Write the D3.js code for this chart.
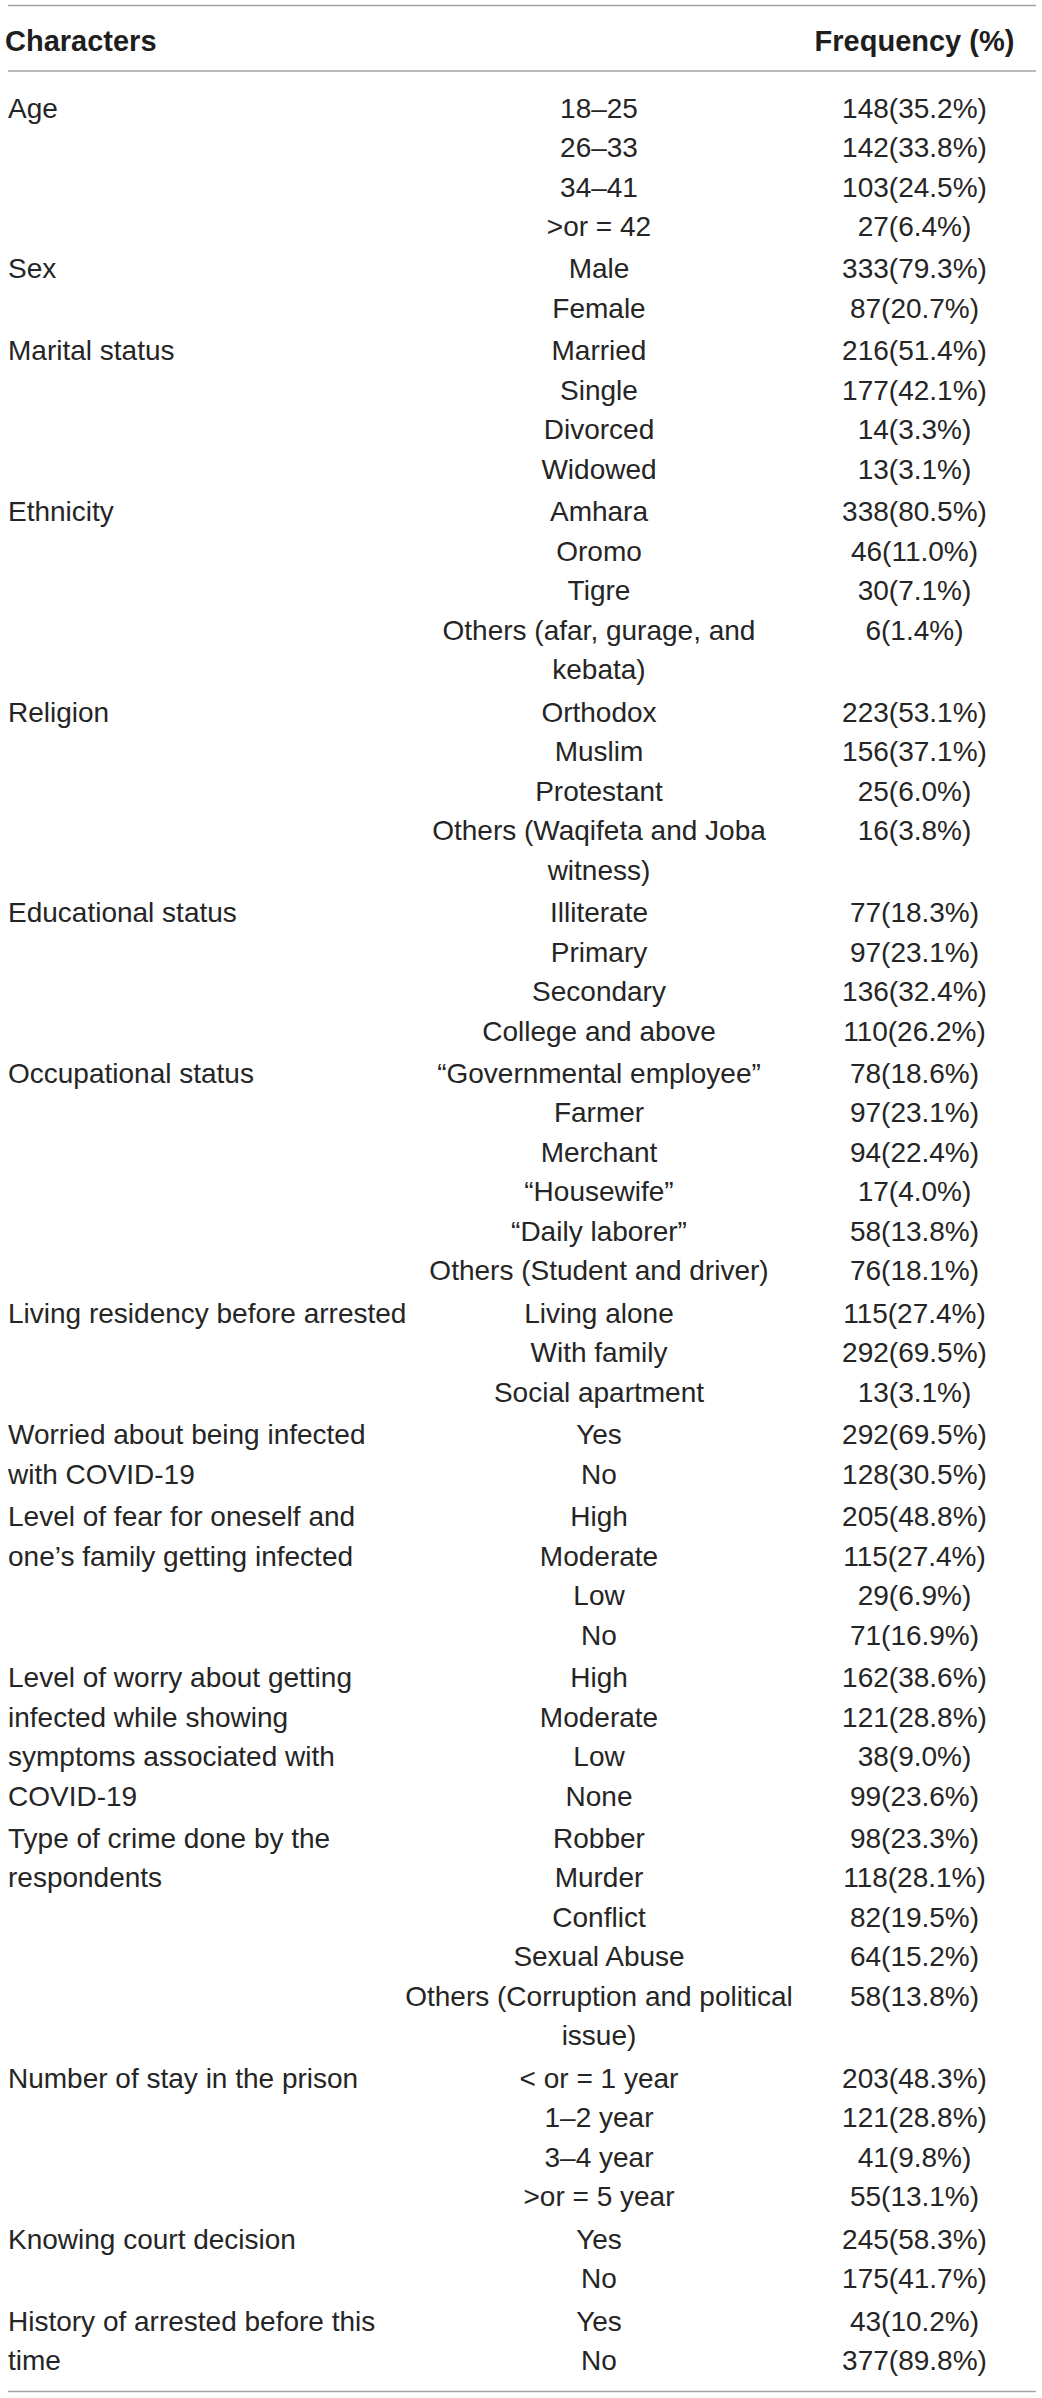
<!DOCTYPE html>
<html>
<head>
<meta charset="utf-8">
<script src="https://cdn.jsdelivr.net/npm/d3@7/dist/d3.min.js"></script>
<style>
  html, body { margin: 0; padding: 0; background: #ffffff; }
  svg { display: block; }
</style>
</head>
<body>
<div id="chart"></div>
<script>
// ---- Data ----
const headers = ["Characters", "Frequency (%)"];

const characters = [
  "Age",
  "Sex",
  "Marital status",
  "Ethnicity",
  "Religion",
  "Educational status",
  "Occupational status",
  "Living residency before arrested",
  "Worried about being infected\nwith COVID-19",
  "Level of fear for oneself and\none\u2019s family getting infected",
  "Level of worry about getting\ninfected while showing\nsymptoms associated with\nCOVID-19",
  "Type of crime done by the\nrespondents",
  "Number of stay in the prison",
  "Knowing court decision",
  "History of arrested before this\ntime"
];

const categories = [
  ["18\u201325", "26\u201333", "34\u201341", ">or = 42"],
  ["Male", "Female"],
  ["Married", "Single", "Divorced", "Widowed"],
  ["Amhara", "Oromo", "Tigre", "Others (afar, gurage, and\nkebata)"],
  ["Orthodox", "Muslim", "Protestant", "Others (Waqifeta and Joba\nwitness)"],
  ["Illiterate", "Primary", "Secondary", "College and above"],
  ["\u201cGovernmental employee\u201d", "Farmer", "Merchant", "\u201cHousewife\u201d", "\u201cDaily laborer\u201d", "Others (Student and driver)"],
  ["Living alone", "With family", "Social apartment"],
  ["Yes", "No"],
  ["High", "Moderate", "Low", "No"],
  ["High", "Moderate", "Low", "None"],
  ["Robber", "Murder", "Conflict", "Sexual Abuse", "Others (Corruption and political\nissue)"],
  ["< or = 1 year", "1\u20132 year", "3\u20134 year", ">or = 5 year"],
  ["Yes", "No"],
  ["Yes", "No"]
];

const counts = [
  [148, 142, 103, 27],
  [333, 87],
  [216, 177, 14, 13],
  [338, 46, 30, 6],
  [223, 156, 25, 16],
  [77, 97, 136, 110],
  [78, 97, 94, 17, 58, 76],
  [115, 292, 13],
  [292, 128],
  [205, 115, 29, 71],
  [162, 121, 38, 99],
  [98, 118, 82, 64, 58],
  [203, 121, 41, 55],
  [245, 175],
  [43, 377]
];

const percents = [
  ["35.2", "33.8", "24.5", "6.4"],
  ["79.3", "20.7"],
  ["51.4", "42.1", "3.3", "3.1"],
  ["80.5", "11.0", "7.1", "1.4"],
  ["53.1", "37.1", "6.0", "3.8"],
  ["18.3", "23.1", "32.4", "26.2"],
  ["18.6", "23.1", "22.4", "4.0", "13.8", "18.1"],
  ["27.4", "69.5", "3.1"],
  ["69.5", "30.5"],
  ["48.8", "27.4", "6.9", "16.9"],
  ["38.6", "28.8", "9.0", "23.6"],
  ["23.3", "28.1", "19.5", "15.2", "13.8"],
  ["48.3", "28.8", "9.8", "13.1"],
  ["58.3", "41.7"],
  ["10.2", "89.8"]
];

// ---- Layout ----
const W = 1042, H = 2398;
const lineH = 39.5;            // px per text line
const groupGap = 2.9 / lineH;  // extra gap between groups (in line units)
const textColor = "#252525";
const ruleColor = "#a3a3a3";
const bodyFont = "'Liberation Sans', Arial, Helvetica, sans-serif";

const svg = d3.select("#chart").append("svg")
  .attr("width", W).attr("height", H)
  .attr("viewBox", `0 0 ${W} ${H}`);

svg.append("rect").attr("width", W).attr("height", H).attr("fill", "#fff");

// columns (band-like positions via scales)
const x = d3.scaleOrdinal()
  .domain(["characters", "category", "frequency"])
  .range([8, 599, 914.5]);

// y: line units -> baseline
const y = d3.scaleLinear().domain([0, 1]).range([117.5, 117.5 + lineH]);

// build line records
const leftLines = [], midLines = [], rightLines = [];
let slot = 0;
characters.forEach((ch, gi) => {
  const base = slot + gi * groupGap;
  const lLines = ch.split("\n");
  lLines.forEach((t, i) => leftLines.push({ text: t, u: base + i }));
  let k = 0;
  categories[gi].forEach((c, ci) => {
    const parts = c.split("\n");
    rightLines.push({ text: `${counts[gi][ci]}(${percents[gi][ci]}%)`, u: base + k });
    parts.forEach((p, pi) => midLines.push({ text: p, u: base + k + pi }));
    k += parts.length;
  });
  slot += Math.max(lLines.length, k);
});

// rules
const rules = [5.5, 71, 2391.5];
svg.selectAll("line.rule").data(rules).enter().append("line")
  .attr("class", "rule")
  .attr("x1", 8).attr("x2", 1036)
  .attr("y1", d => d).attr("y2", d => d)
  .attr("stroke", ruleColor).attr("stroke-width", 1.6);

// header
svg.append("text")
  .attr("x", 5).attr("y", 51)
  .attr("font-family", bodyFont).attr("font-weight", "bold")
  .attr("font-size", 29).attr("fill", "#1e1e1e")
  .text(headers[0]);
svg.append("text")
  .attr("x", x("frequency")).attr("y", 51)
  .attr("text-anchor", "middle")
  .attr("font-family", bodyFont).attr("font-weight", "bold")
  .attr("font-size", 29).attr("fill", "#1e1e1e")
  .text(headers[1]);

const body = svg.append("g")
  .attr("font-family", bodyFont)
  .attr("font-size", 28)
  .attr("fill", textColor);

body.selectAll("text.left").data(leftLines).enter().append("text")
  .attr("class", "left")
  .attr("x", x("characters"))
  .attr("y", d => y(d.u))
  .text(d => d.text);

body.selectAll("text.mid").data(midLines).enter().append("text")
  .attr("class", "mid")
  .attr("x", x("category"))
  .attr("y", d => y(d.u))
  .attr("text-anchor", "middle")
  .text(d => d.text);

body.selectAll("text.right").data(rightLines).enter().append("text")
  .attr("class", "right")
  .attr("x", x("frequency"))
  .attr("y", d => y(d.u))
  .attr("text-anchor", "middle")
  .text(d => d.text);
</script>
</body>
</html>
